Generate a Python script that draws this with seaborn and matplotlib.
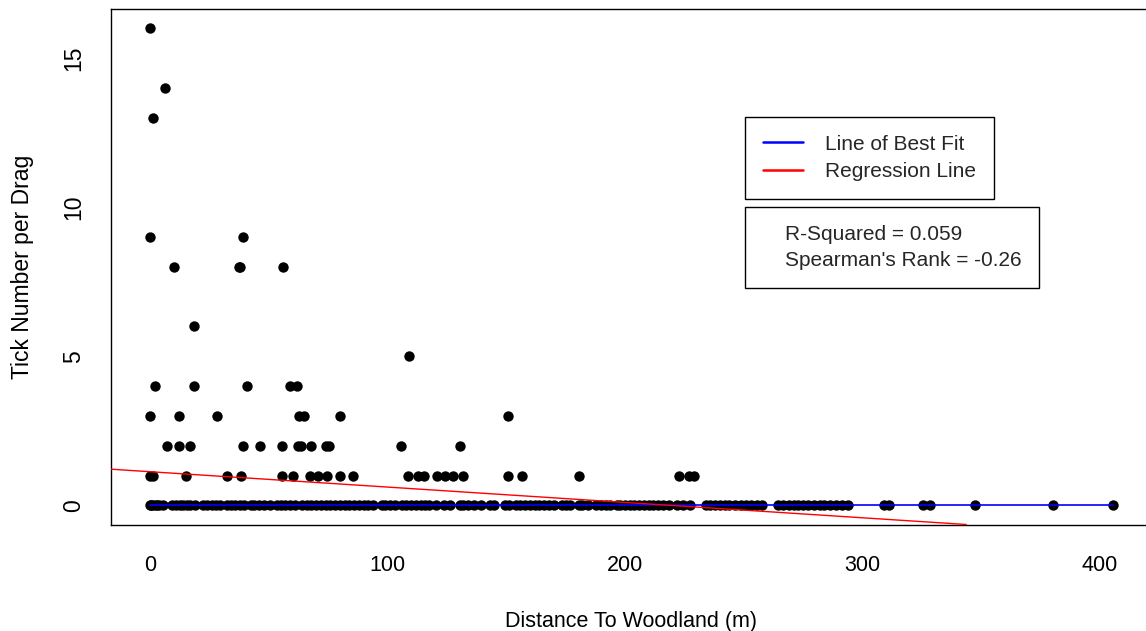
import numpy as np
import pandas as pd
import matplotlib
matplotlib.use('Agg')
import matplotlib.pyplot as plt
from matplotlib.lines import Line2D
import seaborn as sns

# Distance to woodland (m) of each drag, grouped by the number of ticks found
dist_0 = [0, 0.5, 1, 2, 3, 4, 5.5, 9.5, 11, 12.5, 14, 15.5, 17, 19, 22.5, 24, 26, 28,
          29.5, 32.5, 34, 36, 38, 39.5, 42.5, 44, 46, 48, 50.5, 53.5, 55, 57, 59, 61,
          64, 66, 68, 70, 72, 74, 76, 78, 80, 82, 84, 86, 88, 90, 92, 94, 97.5, 99,
          101, 103, 106, 108, 110, 112, 114, 116, 117.5, 120.5, 124, 126.5, 130.5,
          132, 134, 136.5, 139.5, 143, 145, 149.5, 151, 154, 156, 158, 160, 162, 164,
          166, 168, 170, 173.5, 175, 177, 180.5, 182, 184.5, 188, 190, 192, 193.5,
          196.5, 198, 200, 202, 204, 206, 208, 210, 212, 214, 216, 218.5, 222, 224.5,
          227.5, 234, 236, 238, 240, 242, 244, 246.5, 249, 251, 253, 255.5, 257.5,
          264.5, 266.5, 269, 271, 273, 275, 277, 279.5, 282, 284, 286.5, 289, 291.5,
          294, 309, 311, 325.5, 328.5, 347.5, 380, 405.5]
dist_1 = [0, 1.4, 15.1, 32.3, 38.2, 55.5, 60.1, 67.4, 70.6, 74.7, 80.2, 85.6, 108.5,
          112.7, 115.5, 120.7, 124.2, 127.7, 131.9, 150.6, 156.5, 180.6, 222.9, 227.1,
          229.1]
dist_2 = [7.1, 12.1, 17.0, 39.3, 46.2, 55.5, 62.2, 63.6, 67.7, 74.3, 75.3, 105.6, 130.6]
dist_3 = [0, 12.1, 28.4, 62.8, 65.0, 80.2, 150.8]
dist_4 = [2.3, 18.6, 40.9, 59.0, 61.8]
dist_5 = [109.2]
dist_6 = [18.6]
dist_8 = [10.3, 37.4, 37.9, 55.9]
dist_9 = [0, 39.2]
dist_13 = [1.3]
dist_14 = [6.4]
dist_16 = [0]

groups = {0: dist_0, 1: dist_1, 2: dist_2, 3: dist_3, 4: dist_4, 5: dist_5,
          6: dist_6, 8: dist_8, 9: dist_9, 13: dist_13, 14: dist_14, 16: dist_16}

# fitted lines
best_fit_x = [0, 405.5]
best_fit_y = [0, 0]
reg_intercept = 1.13
reg_slope = -0.00515

r_squared = 0.059
spearman = -0.26

df = pd.DataFrame(
    [(d, n) for n, ds in groups.items() for d in ds],
    columns=['Distance', 'Ticks'],
)

sns.set_theme(style='white')
plt.rcParams['font.family'] = ['Liberation Sans', 'DejaVu Sans']

W, H = 1146, 631
fig = plt.figure(figsize=(W / 100, H / 100), dpi=100)
ax = fig.add_axes([111.4 / W, 1 - 524.5 / H, 1040.2 / W, 515.4 / H])

sns.scatterplot(data=df, x='Distance', y='Ticks', color='black', s=56,
                linewidth=0, ax=ax, zorder=2)
ax.plot(best_fit_x, best_fit_y, color='blue', lw=1.2, zorder=3)
ax.axline((0, reg_intercept), slope=reg_slope, color='red', lw=1.0, zorder=3)

# R-style axis extents (4% padding)
xmin, xmax = df['Distance'].min(), df['Distance'].max()
ymin, ymax = df['Ticks'].min(), df['Ticks'].max()
ax.set_xlim(xmin - 0.04 * (xmax - xmin), xmax + 0.04 * (xmax - xmin))
ax.set_ylim(ymin - 0.04 * (ymax - ymin), ymax + 0.04 * (ymax - ymin))

ax.set_xticks([0, 100, 200, 300, 400])
ax.set_yticks([0, 5, 10, 15])
ax.tick_params(axis='both', direction='out', length=8.6, width=1.0,
               color='black', labelcolor='black')
ax.tick_params(axis='x', pad=13.5, labelsize=15.5)
ax.tick_params(axis='y', pad=10.5, labelsize=16.5)
plt.setp(ax.get_yticklabels(), rotation=90, va='center', ha='right')

for sp in ax.spines.values():
    sp.set_visible(True)
    sp.set_color('black')
    sp.set_linewidth(1.0)

ax.set_xlabel('Distance To Woodland (m)', fontsize=15.5, color='black')
ax.set_ylabel('Tick Number per Drag', fontsize=16.5, color='black')
ax.xaxis.set_label_coords(0.5, -0.1672)
ax.yaxis.set_label_coords(-0.0745, 0.5)

handles = [Line2D([], [], color='blue', lw=1.8), Line2D([], [], color='red', lw=1.8)]
leg1 = ax.legend(handles, ['Line of Best Fit', 'Regression Line'], loc='upper left',
                 bbox_to_anchor=(745 / W, 1 - 117 / H), bbox_transform=fig.transFigure,
                 borderaxespad=0, borderpad=0.85, handlelength=1.92, handletextpad=1.07,
                 labelspacing=0.41, fancybox=False, edgecolor='black', framealpha=1,
                 fontsize=15)
leg1.get_frame().set_linewidth(1.0)
ax.add_artist(leg1)

blank = [Line2D([], [], linestyle='none')] * 2
leg2 = ax.legend(blank, [f'R-Squared = {r_squared}', f"Spearman's Rank = {spearman}"],
                 loc='upper left', bbox_to_anchor=(745 / W, 1 - 207 / H),
                 bbox_transform=fig.transFigure, borderaxespad=0, borderpad=0.85,
                 handlelength=1.07, handletextpad=0, labelspacing=0.35, fancybox=False,
                 edgecolor='black', framealpha=1, fontsize=15)
leg2.get_frame().set_linewidth(1.0)

fig.savefig('out.png', dpi=100, facecolor='white')
